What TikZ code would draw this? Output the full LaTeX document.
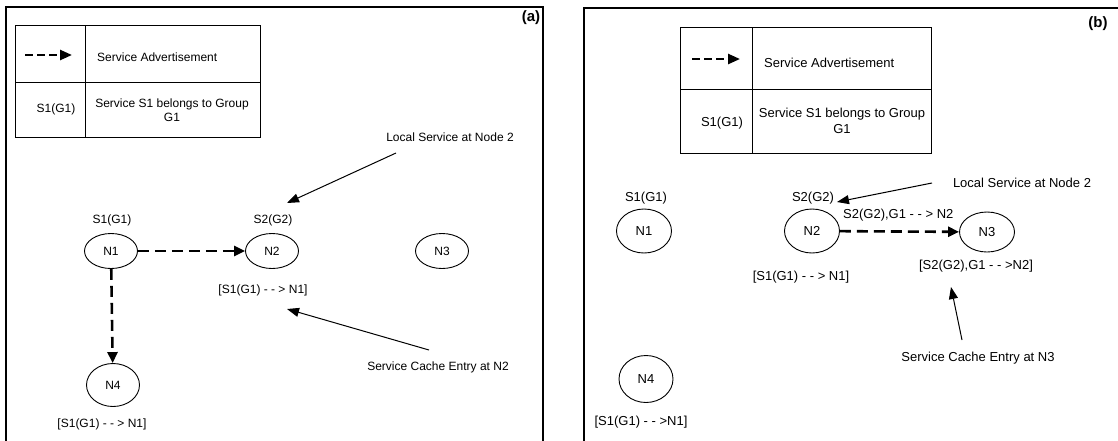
\documentclass[tikz,border=0pt]{standalone}
\usepackage{fontspec}
\setmainfont{Liberation Sans}
\usetikzlibrary{arrows.meta,shapes.geometric}

\begin{document}
\begin{tikzpicture}[x=1pt,y=-1pt,
  every node/.style={font=\fontsize{12}{14}\selectfont, inner sep=0pt},
  netnode/.style={draw, ellipse, minimum width=53pt, minimum height=35pt, line width=0.9pt},
  adv/.style={line width=2.6pt, dash pattern=on 11pt off 6pt, -{Triangle[length=11pt,width=10pt]}},
  legadv/.style={line width=2.5pt, dash pattern=on 8pt off 4pt, -{Triangle[length=12pt,width=10pt]}},
  callout/.style={line width=1pt, -{Triangle[length=12pt,width=9pt]}},
  panel/.style={line width=1.4pt},
  legend/.style={line width=1pt},
  tag/.style={font=\bfseries\fontsize{15}{17}\selectfont},
  bigtext/.style={every node/.append style={font=\fontsize{13}{16}\selectfont}}
]
\useasboundingbox (0,0) rectangle (1118,440);
\clip (0,0) rectangle (1118,440);

% ---------- panel (a) ----------
\draw[panel] (6,460) -- (6,7) -- (543,7) -- (543,460);
\node[tag] (taga) at (531,18) {(a)};

% legend
\draw[legend] (15,25) rectangle (260,137);
\draw[legend] (15,82) -- (260,82);
\draw[legend] (85,25) -- (85,137);
\coordinate (la1) at (25,55);
\coordinate (la2) at (72,55);
\draw[legadv] (la1) -- (la2);
\node[anchor=west] (lsa) at (97,57) {Service Advertisement};
\node (lsg) at (56,109) {S1(G1)};
\node[align=center] (lsd) at (172,110) {Service S1 belongs to Group\\G1};

% nodes
\node[netnode] (a1) at (111,251) {N1};
\node[netnode] (a2) at (272,251) {N2};
\node[netnode] (a3) at (442,251) {N3};
\node[netnode, minimum height=43pt] (a4) at (113,385) {N4};

\node (a1s) at (112,220) {S1(G1)};
\node (a2s) at (273,220) {S2(G2)};
\node (a2c) at (263,290) {[S1(G1) - - > N1]};
\node (a4c) at (102,424) {[S1(G1) - - > N1]};

\draw[adv] (a1) -- (a2);
\draw[adv] (a1) -- (a4);

\node (alocal) at (450,137) {Local Service at Node 2};
\coordinate (alocal0) at (396,153);
\coordinate (alocal1) at (287,203);
\draw[callout] (alocal0) -- (alocal1);

\node (acache) at (438,367) {Service Cache Entry at N2};
\coordinate (acache0) at (429,350);
\coordinate (acache1) at (287,309);
\draw[callout] (acache0) -- (acache1);

% ---------- panel (b) ----------
\begin{scope}[bigtext]
\draw[panel] (584,460) -- (584,8) -- (1130,8);
\node[tag] (tagb) at (1098,24) {(b)};

% legend
\draw[legend] (680,27) rectangle (931,153);
\draw[legend] (680,89) -- (931,89);
\draw[legend] (752,27) -- (752,153);
\coordinate (lb1) at (692,59);
\coordinate (lb2) at (740,59);
\draw[legadv] (lb1) -- (lb2);
\node[anchor=west] (lsb) at (764,63) {Service Advertisement};
\node (lsgb) at (722,123) {S1(G1)};
\node[align=center] (lsdb) at (842,121) {Service S1 belongs to Group\\G1};

% nodes
\node[netnode, minimum width=55pt, minimum height=44pt] (b1) at (644,231) {N1};
\node[netnode, minimum width=55pt, minimum height=44pt] (b2) at (812,231) {N2};
\node[netnode, minimum width=55pt, minimum height=40pt] (b3) at (987,232) {N3};
\node[netnode, minimum width=54pt, minimum height=47pt] (b4) at (646,379) {N4};

\node (b1s) at (646,198) {S1(G1)};
\node (b2s) at (813,198) {S2(G2)};
\node[anchor=west] (b23) at (843,215) {S2(G2),G1 - - > N2};
\node (b3c) at (976,266) {[S2(G2),G1 - - >N2]};
\node (b2c) at (801,277) {[S1(G1) - - > N1]};
\node (b4c) at (641,422) {[S1(G1) - - >N1]};

\draw[adv] (b2) -- (b3);

\node (blocal) at (1022,183) {Local Service at Node 2};
\coordinate (blocal0) at (932,183);
\coordinate (blocal1) at (837,202);
\draw[callout] (blocal0) -- (blocal1);

\node (bcache) at (978,358) {Service Cache Entry at N3};
\coordinate (bcache0) at (962,340);
\coordinate (bcache1) at (951,287);
\draw[callout] (bcache0) -- (bcache1);
\end{scope}
\end{tikzpicture}
\end{document}
